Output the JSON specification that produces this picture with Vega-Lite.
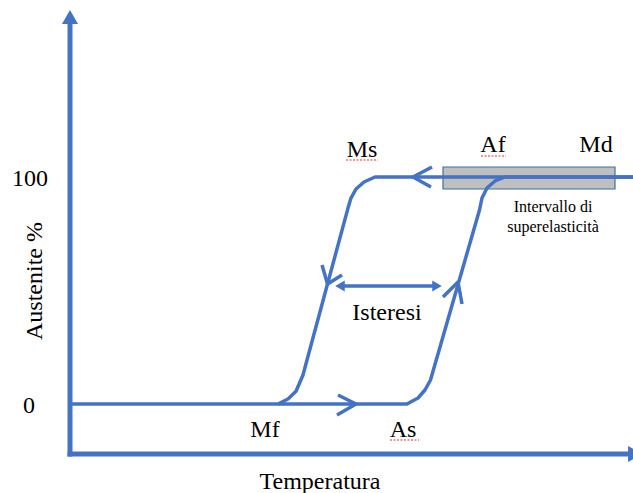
{
  "$schema": "https://vega.github.io/schema/vega-lite/v6.json",
  "width": 633,
  "height": 493,
  "autosize": {"type": "none"},
  "padding": 0,
  "background": "white",
  "config": {"view": {"stroke": null}},
  "datasets": {
    "curves": [
      {"path": "cool", "ord": 1, "t": 633, "a": 100},
      {"path": "cool", "ord": 2, "t": 375, "a": 100},
      {"path": "cool", "ord": 3, "t": 364, "a": 97.8},
      {"path": "cool", "ord": 4, "t": 356, "a": 94.7},
      {"path": "cool", "ord": 5, "t": 351, "a": 90.7},
      {"path": "cool", "ord": 6, "t": 348, "a": 86.3},
      {"path": "cool", "ord": 7, "t": 307, "a": 19.38},
      {"path": "cool", "ord": 8, "t": 303, "a": 12.78},
      {"path": "cool", "ord": 9, "t": 296, "a": 5.6},
      {"path": "cool", "ord": 10, "t": 288, "a": 2.2},
      {"path": "cool", "ord": 11, "t": 278, "a": 0},
      {"path": "cool", "ord": 12, "t": 70, "a": 0},
      {"path": "heat", "ord": 1, "t": 278, "a": 0},
      {"path": "heat", "ord": 2, "t": 407, "a": 0},
      {"path": "heat", "ord": 3, "t": 418, "a": 2.64},
      {"path": "heat", "ord": 4, "t": 425, "a": 6.17},
      {"path": "heat", "ord": 5, "t": 430.5, "a": 10.57},
      {"path": "heat", "ord": 6, "t": 479.5, "a": 85.46},
      {"path": "heat", "ord": 7, "t": 482, "a": 90.75},
      {"path": "heat", "ord": 8, "t": 487, "a": 95.15},
      {"path": "heat", "ord": 9, "t": 495, "a": 98.24},
      {"path": "heat", "ord": 10, "t": 505, "a": 100},
      {"path": "heat", "ord": 11, "t": 633, "a": 100},
      {"path": "c1", "ord": 1, "t": 338, "a": 3.96},
      {"path": "c1", "ord": 2, "t": 356, "a": 0},
      {"path": "c1", "ord": 3, "t": 337, "a": -4.85},
      {"path": "c2", "ord": 1, "t": 432, "a": 104.41},
      {"path": "c2", "ord": 2, "t": 413, "a": 100},
      {"path": "c2", "ord": 3, "t": 431, "a": 95.59},
      {"path": "c3", "ord": 1, "t": 322, "a": 61.23},
      {"path": "c3", "ord": 2, "t": 327.5, "a": 52.86},
      {"path": "c3", "ord": 3, "t": 342, "a": 56.83},
      {"path": "c4", "ord": 1, "t": 443, "a": 47.14},
      {"path": "c4", "ord": 2, "t": 458, "a": 53.74},
      {"path": "c4", "ord": 3, "t": 462, "a": 44.05},
      {"path": "ist", "ord": 1, "t": 340, "a": 51.98},
      {"path": "ist", "ord": 2, "t": 437, "a": 51.98}
    ],
    "axes": [
      {"path": "yax", "ord": 1, "t": 70, "a": -23.13},
      {"path": "yax", "ord": 2, "t": 70, "a": 168.28},
      {"path": "xax", "ord": 1, "t": 67.5, "a": -22.03},
      {"path": "xax", "ord": 2, "t": 630, "a": -22.03}
    ],
    "heads": [
      {"h": "yax", "t": 70, "a": 170.48},
      {"h": "xax", "t": 635, "a": -22.03},
      {"h": "istL", "t": 340, "a": 51.98},
      {"h": "istR", "t": 437, "a": 51.98}
    ],
    "box": [
      {"t": 443, "t2": 615, "a": 104.41, "a2": 94.71}
    ],
    "squiggle": [
      {"w": "Ms", "ord": 1, "t": 346, "a": 107.49},
      {"w": "Ms", "ord": 2, "t": 378, "a": 107.49},
      {"w": "Af", "ord": 1, "t": 481, "a": 109.25},
      {"w": "Af", "ord": 2, "t": 506, "a": 109.25},
      {"w": "As", "ord": 1, "t": 390, "a": -15.86},
      {"w": "As", "ord": 2, "t": 419, "a": -15.86}
    ],
    "labels": [
      {"grp": "big", "label": "Ms", "t": 362, "a": 111.89},
      {"grp": "big", "label": "Af", "t": 493, "a": 114.1},
      {"grp": "big", "label": "Md", "t": 596, "a": 114.1},
      {"grp": "big", "label": "100", "t": 30, "a": 99.12},
      {"grp": "big", "label": "0", "t": 29, "a": -0.88},
      {"grp": "big", "label": "Isteresi", "t": 387, "a": 40.09},
      {"grp": "big", "label": "Mf", "t": 265, "a": -11.45},
      {"grp": "big", "label": "As", "t": 403, "a": -11.45},
      {"grp": "big", "label": "Temperatura", "t": 320, "a": -34.36},
      {"grp": "small", "label": "Intervallo di", "t": 553, "a": 86.78},
      {"grp": "small", "label": "superelasticità", "t": 553, "a": 77.97},
      {"grp": "rot", "label": "Austenite %", "t": 35, "a": 54.19}
    ]
  },
  "encoding": {
    "x": {"field": "t", "type": "quantitative", "axis": null, "scale": {"domain": [0, 633], "nice": false, "zero": false}},
    "y": {"field": "a", "type": "quantitative", "axis": null, "scale": {"domain": [-39.21, 177.97], "nice": false, "zero": false}}
  },
  "layer": [
    {
      "data": {"name": "box"},
      "mark": {"type": "rect", "fill": "#BFBFBF", "stroke": "#41719C", "strokeWidth": 1.2},
      "encoding": {
        "x2": {"field": "t2"},
        "y2": {"field": "a2"}
      }
    },
    {
      "data": {"name": "axes"},
      "mark": {"type": "line", "color": "#4472C4", "strokeWidth": 5, "strokeCap": "butt"},
      "encoding": {
        "detail": {"field": "path"},
        "order": {"field": "ord"}
      }
    },
    {
      "data": {"name": "curves"},
      "mark": {"type": "line", "color": "#4472C4", "strokeWidth": 3.5, "strokeJoin": "round", "strokeCap": "butt"},
      "encoding": {
        "detail": {"field": "path"},
        "order": {"field": "ord"}
      }
    },
    {
      "data": {"name": "heads"},
      "transform": [{"filter": "datum.h === 'yax'"}],
      "mark": {"type": "point", "shape": "triangle-up", "filled": true, "opacity": 1, "color": "#4472C4", "size": 256},
      "encoding": {}
    },
    {
      "data": {"name": "heads"},
      "transform": [{"filter": "datum.h === 'xax'"}],
      "mark": {"type": "point", "shape": "triangle-right", "filled": true, "opacity": 1, "color": "#4472C4", "size": 256},
      "encoding": {}
    },
    {
      "data": {"name": "heads"},
      "transform": [{"filter": "datum.h === 'istR'"}],
      "mark": {"type": "point", "shape": "triangle-right", "filled": true, "opacity": 1, "color": "#4472C4", "size": 121},
      "encoding": {}
    },
    {
      "data": {"name": "heads"},
      "transform": [{"filter": "datum.h === 'istL'"}],
      "mark": {"type": "point", "shape": "triangle-left", "filled": true, "opacity": 1, "color": "#4472C4", "size": 121},
      "encoding": {}
    },
    {
      "data": {"name": "squiggle"},
      "mark": {"type": "line", "color": "#E03030", "strokeWidth": 1.2, "strokeDash": [2, 1.5]},
      "encoding": {
        "detail": {"field": "w"},
        "order": {"field": "ord"}
      }
    },
    {
      "data": {"name": "labels"},
      "transform": [{"filter": "datum.grp === 'big'"}],
      "mark": {"type": "text", "font": "Liberation Serif", "fontSize": 24, "color": "#000000", "align": "center", "baseline": "middle"},
      "encoding": {"text": {"field": "label"}}
    },
    {
      "data": {"name": "labels"},
      "transform": [{"filter": "datum.grp === 'small'"}],
      "mark": {"type": "text", "font": "Liberation Serif", "fontSize": 16, "color": "#000000", "align": "center", "baseline": "middle"},
      "encoding": {"text": {"field": "label"}}
    },
    {
      "data": {"name": "labels"},
      "transform": [{"filter": "datum.grp === 'rot'"}],
      "mark": {"type": "text", "font": "Liberation Serif", "fontSize": 24, "color": "#000000", "align": "center", "baseline": "middle", "angle": 270},
      "encoding": {"text": {"field": "label"}}
    }
  ]
}
